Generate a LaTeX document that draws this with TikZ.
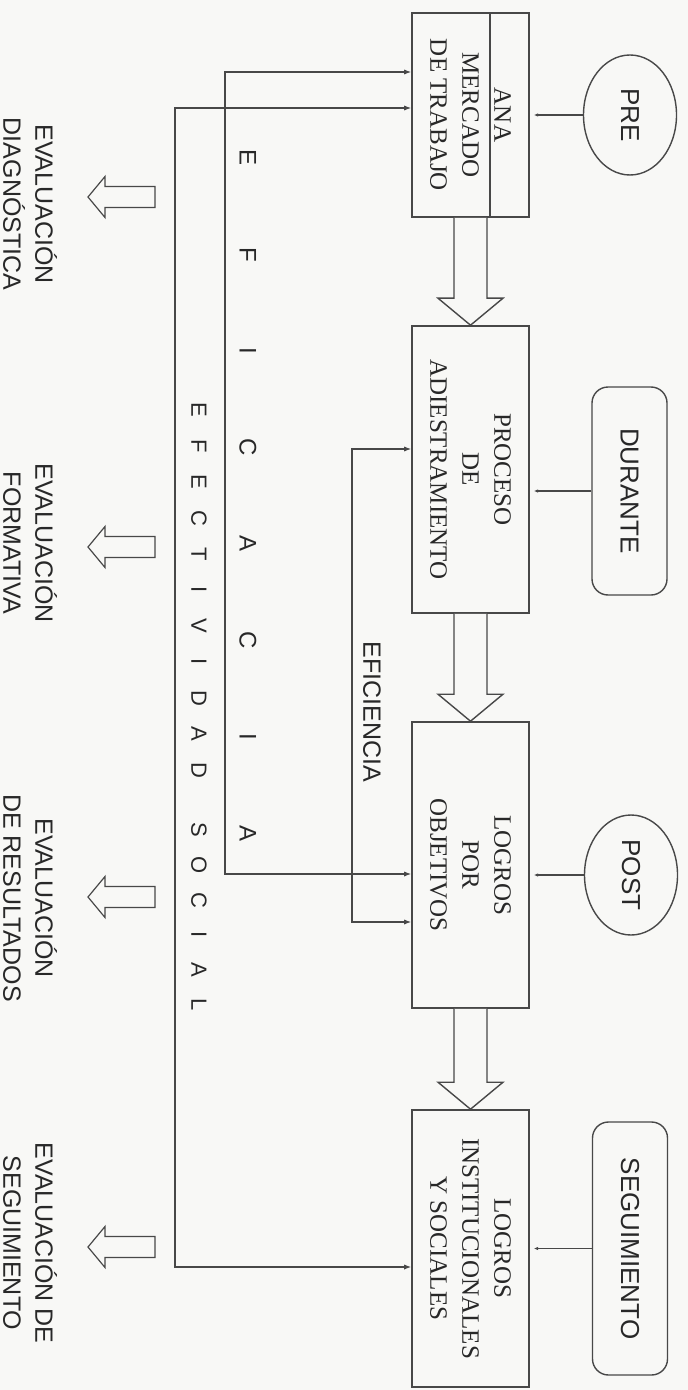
\documentclass[tikz,border=0pt]{standalone}
\usepackage{fontspec}
\setmainfont{Liberation Serif}
\setsansfont{Liberation Sans}
\usetikzlibrary{arrows.meta,calc,shapes.geometric}
\definecolor{EvInk}{RGB}{40,40,40}
\definecolor{EvLine}{RGB}{72,72,72}
\definecolor{EvPaper}{RGB}{248,248,246}
\tikzset{
  ev/box/.style={
    draw=EvLine,
    line width=0.8pt,
    rotate=-90,
    align=center,
    text=EvInk,
    inner sep=0pt,
    minimum height=58.5pt,
    font=\fontsize{12.5}{16}\selectfont
  },
  ev/oval/.style={
    ellipse,
    draw=EvLine,
    line width=0.7pt,
    rotate=-90,
    text=EvInk,
    inner sep=0pt,
    minimum width=60pt,
    minimum height=46.5pt,
    font=\sffamily\fontsize{13}{15}\selectfont
  },
  ev/pill/.style={
    draw=EvLine,
    line width=0.7pt,
    rounded corners=8pt,
    rotate=-90,
    text=EvInk,
    inner sep=0pt,
    minimum height=37.5pt,
    font=\sffamily\fontsize{13}{15}\selectfont
  },
  ev/label/.style={rotate=-90, align=center, text=EvInk, inner sep=0pt, font=\sffamily\fontsize{12.5}{16}\selectfont},
  ev/bigletter/.style={rotate=-90, text=EvInk, inner sep=0pt, font=\sffamily\fontsize{12}{14}\selectfont},
  ev/letter/.style={rotate=-90, text=EvInk, inner sep=0pt, font=\sffamily\fontsize{11}{12}\selectfont},
  ev/tick/.style={-{Latex[length=2.2pt,width=1.8pt]}, line width=0.6pt, draw=EvLine, shorten >=2pt},
  ev/link/.style={{Latex[length=3.5pt,width=2.6pt]}-{Latex[length=3.5pt,width=2.6pt]}, line width=0.6pt, draw=EvLine},
  ev/fat/.style={draw=EvLine, line width=0.7pt, fill=EvPaper, line join=miter},
  ev/hollow/.style={draw=EvLine, line width=0.6pt, fill=EvPaper, line join=miter}
}

\begin{document}
\begin{tikzpicture}[x=0.5pt,y=-0.5pt]
  \fill[EvPaper] (0,0) rectangle (688,1390);
  \useasboundingbox (0,0) rectangle (688,1390);

  % main column
  \node[ev/box,minimum width=102pt] (box1) at (470.5,115) {ANA\\MERCADO\\DE TRABAJO};
  \node[ev/box,minimum width=143.5pt] (box2) at (470.5,469.5) {PROCESO\\DE\\ADIESTRAMIENTO};
  \node[ev/box,minimum width=143pt] (box3) at (470.5,865) {LOGROS\\POR\\OBJETIVOS};
  \node[ev/box,minimum width=138.5pt] (box4) at (470.5,1248.5) {LOGROS\\INSTITUCIONALES\\Y SOCIALES};
  \draw[draw=EvLine,line width=0.8pt] ([xshift=-20pt]box1.north west) -- ([xshift=-20pt]box1.north east);

  \foreach \a/\b in {box1/box2,box2/box3,box3/box4}
    \draw[ev/fat] ($(\a.east)+(-16.5,0)$) -- ($(\b.west)+(-16.5,-27)$) -- ($(\b.west)+(-32.5,-27)$)
      -- (\b.west) -- ($(\b.west)+(32.5,-27)$) -- ($(\b.west)+(16.5,-27)$) -- ($(\a.east)+(16.5,0)$);

  % moments
  \node[ev/oval] (pre) at (630,115) {PRE};
  \node[ev/pill,minimum width=104pt] (durante) at (629.5,491) {DURANTE};
  \node[ev/oval] (post) at (631,875) {POST};
  \node[ev/pill,minimum width=126.5pt] (seguim) at (630,1248.5) {SEGUIMIENTO};
  \draw[ev/tick] (pre.south) -- (box1.north |- pre.south);
  \draw[ev/tick] (durante.south) -- (box2.north |- durante.south);
  \draw[ev/tick] (post.south) -- (box3.north |- post.south);
  \draw[ev/tick] (seguim.south) -- (box4.north |- seguim.south);

  % feedback lines
  \coordinate (efsTop) at (175,108);
  \coordinate (efsBot) at (175,1267);
  \coordinate (efcTop) at (225,72);
  \coordinate (efcBot) at (225,874);
  \coordinate (efiTop) at (352,449);
  \coordinate (efiBot) at (352,922);
  \draw[ev/link] (box1.south |- efsTop) -- (efsTop) -- (efsBot) -- (box4.south |- efsBot);
  \draw[ev/link] (box1.south |- efcTop) -- (efcTop) -- (efcBot) -- (box3.south |- efcBot);
  \draw[ev/link] (box2.south |- efiTop) -- (efiTop) -- (efiBot) -- (box3.south |- efiBot);

  \node[ev/label] (eficiencia) at (372,712) {EFICIENCIA};
  \foreach \ch [count=\i from 0] in {E,F,I,C,A,C,I,A}
    \node[ev/bigletter] (efc\i) at (248,{158+96.5*\i}) {\ch};
  \foreach \ch [count=\i from 0] in {E,F,E,C,T,I,V,I,D,A,D}
    \node[ev/letter] (efs\i) at (199,{410+36*\i}) {\ch};
  \foreach \ch [count=\i from 0] in {S,O,C,I,A,L}
    \node[ev/letter] (soc\i) at (199,{830+35*\i}) {\ch};

  % evaluations
  \node[ev/label] (evdiag) at (30,204) {EVALUACIÓN\\DIAGNÓSTICA};
  \node[ev/label] (evform) at (30,543) {EVALUACIÓN\\FORMATIVA};
  \node[ev/label] (evres) at (30,898) {EVALUACIÓN\\DE RESULTADOS};
  \node[ev/label] (evseg) at (30,1243) {EVALUACIÓN DE\\SEGUIMIENTO};
  \foreach \yy in {197,547,897,1247}
    \draw[ev/hollow] (155,{\yy-10.5}) -- (105,{\yy-10.5}) -- (105,{\yy-20.5}) -- (88,\yy)
      -- (105,{\yy+20.5}) -- (105,{\yy+10.5}) -- (155,{\yy+10.5}) -- cycle;
\end{tikzpicture}
\end{document}
